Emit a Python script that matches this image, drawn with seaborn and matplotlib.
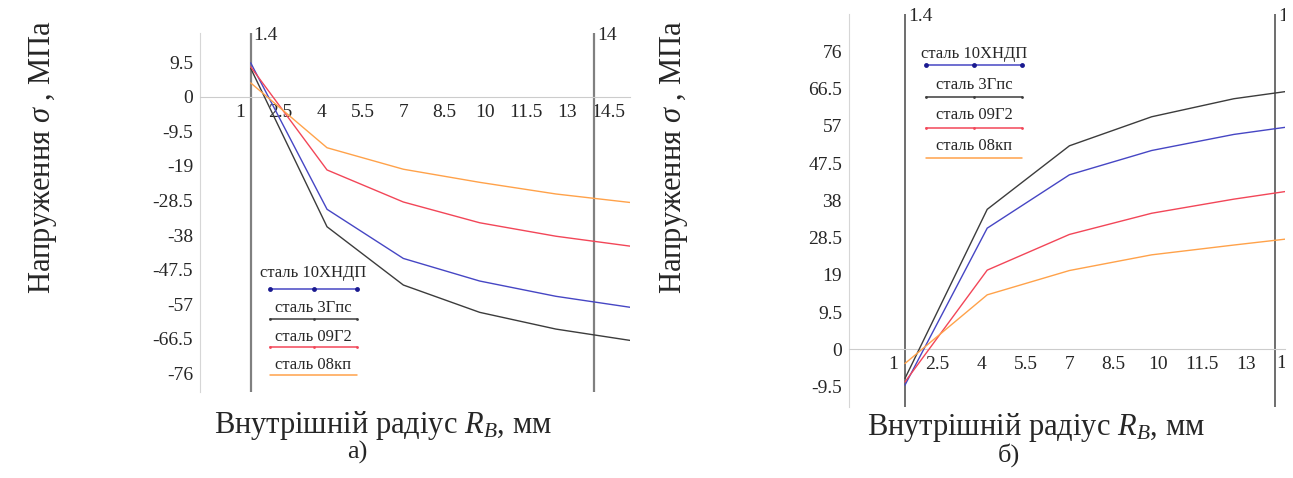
import numpy as np
import pandas as pd
import matplotlib
matplotlib.use("Agg")
import matplotlib.pyplot as plt
import seaborn as sns
from matplotlib.ticker import FuncFormatter
from matplotlib.transforms import Bbox, TransformedBbox

# radius points, mm (last point lies past the right edge of both panels)
R = [1.4, 4.2, 7.0, 9.8, 12.6, 15.4]
STEELS = ["сталь 10ХНДП", "сталь 3Гпс", "сталь 09Г2", "сталь 08кп"]
COLORS = ["#4646c4", "#3c3c3c", "#f24658", "#ffa24a"]

# panel a) stresses, MPa
a_10hndp = [9.3, -30.9, -44.4, -50.6, -54.8, -57.9]
a_3gps = [7.8, -35.7, -51.7, -59.2, -63.8, -67.0]
a_09g2 = [8.2, -20.1, -28.9, -34.6, -38.3, -41.1]
a_08kp = [3.8, -14.0, -19.9, -23.5, -26.7, -29.1]

# panel b) stresses, MPa
b_10hndp = [-9.1, 30.9, 44.5, 50.7, 54.8, 57.7]
b_3gps = [-7.4, 35.7, 51.9, 59.3, 63.9, 66.8]
b_09g2 = [-8.3, 20.2, 29.3, 34.7, 38.3, 41.4]
b_08kp = [-3.6, 13.9, 20.1, 24.1, 26.6, 29.0]

XTICKS = [1, 2.5, 4, 5.5, 7, 8.5, 10, 11.5, 13, 14.5]
YTICKS_A = [9.5, 0, -9.5, -19, -28.5, -38, -47.5, -57, -66.5, -76]
YTICKS_B = [-9.5, 0, 9.5, 19, 28.5, 38, 47.5, 57, 66.5, 76]
VLINES = [1.4, 14]


def long_form(series):
    rows = []
    for name, vals in zip(STEELS, series):
        for r, v in zip(R, vals):
            rows.append({"R": r, "sigma": v, "steel": name})
    return pd.DataFrame(rows)


def clip_right(ax, artist):
    # cut at the right edge of the axes only, leave room above the top
    artist.set_clip_box(TransformedBbox(Bbox([[-0.2, -0.2], [1.0, 1.2]]), ax.transAxes))
    artist.set_clip_on(True)


def style_panel(ax, xlim, ylim, xticks, yticks, vcolor, vwidth):
    ax.set_xlim(*xlim)
    ax.set_ylim(*ylim)
    ax.spines["top"].set_visible(False)
    ax.spines["right"].set_visible(False)
    ax.spines["bottom"].set_position(("data", 0))
    ax.spines["bottom"].set_color("#cccccc")
    ax.spines["left"].set_color("#d6d6d6")
    ax.set_xticks(xticks)
    ax.set_yticks(yticks)
    fmt = FuncFormatter(lambda v, p: f"{v:g}")
    ax.xaxis.set_major_formatter(fmt)
    ax.yaxis.set_major_formatter(fmt)
    ax.tick_params(length=3, width=0.8, color="#bbbbbb", pad=2, labelsize=14)
    ax.set_xlabel("")
    ax.set_ylabel("")
    for x in VLINES:
        ax.axvline(x, color=vcolor, lw=vwidth, zorder=1)
        t = ax.annotate(f"{x:g}", (x, 1.0), xycoords=ax.get_xaxis_transform(),
                        xytext=(2, -2), textcoords="offset points",
                        ha="left", va="center", fontsize=14, annotation_clip=False)
        clip_right(ax, t)


def draw_key(ax, x0, x1, ys_text, ys_line):
    xm = (x0 + x1) / 2
    sizes = [3.5, 2, 2, 0]
    for name, color, yt, yl, ms in zip(STEELS, COLORS, ys_text, ys_line, sizes):
        ax.text(xm, yt, name, transform=ax.transAxes, ha="center", va="center", fontsize=12)
        ax.plot([x0, xm, x1], [yl] * 3, transform=ax.transAxes, color=color, lw=1.1,
                marker="o", ms=ms, mfc=color if ms < 3 else "#1a1a90", mec="none")


sns.set_style("white")
plt.rcParams["font.family"] = ["Liberation Serif", "DejaVu Serif"]
plt.rcParams["mathtext.fontset"] = "custom"
plt.rcParams["mathtext.rm"] = "Liberation Serif"
plt.rcParams["mathtext.it"] = "Liberation Serif:italic"
plt.rcParams["axes.unicode_minus"] = False

fig = plt.figure(figsize=(12.93, 4.78), dpi=100)
ax_a = fig.add_axes([0.1547, 0.1805, 0.3326, 0.7504])
ax_b = fig.add_axes([0.6566, 0.1485, 0.3372, 0.8222])
palette = dict(zip(STEELS, COLORS))

df_a = long_form([a_10hndp, a_3gps, a_09g2, a_08kp])
sns.lineplot(data=df_a, x="R", y="sigma", hue="steel", palette=palette,
             legend=False, lw=1.0, ax=ax_a, zorder=3)
style_panel(ax_a, (-0.46, 15.32), (-81.0, 17.5), XTICKS, YTICKS_A, "#808080", 1.6)
draw_key(ax_a, 0.163, 0.365, [0.331, 0.233, 0.152, 0.074], [0.285, 0.202, 0.125, 0.046])

df_b = long_form([b_10hndp, b_3gps, b_09g2, b_08kp])
sns.lineplot(data=df_b, x="R", y="sigma", hue="steel", palette=palette,
             legend=False, lw=1.0, ax=ax_b, zorder=3)
style_panel(ax_b, (-0.507, 14.34), (-14.7, 85.5), XTICKS[:-1], YTICKS_B, "#555555", 1.2)
draw_key(ax_b, 0.177, 0.397, [0.899, 0.820, 0.742, 0.663], [0.871, 0.790, 0.711, 0.633])
# the 14.5 tick of panel b sits past the edge and is cut by it
t = ax_b.annotate(f"{XTICKS[-1]:g}", (XTICKS[-1], 0), xycoords="data", xytext=(-10, -4),
                  textcoords="offset points", ha="left", va="top", fontsize=14,
                  annotation_clip=False)
clip_right(ax_b, t)

ylab = r"Напруження $\sigma$ , МПа"
xlab = r"Внутрішній радіус $R_B$, мм"
fig.text(0.033, 0.672, ylab, rotation=90, ha="center", va="center", fontsize=22)
fig.text(0.521, 0.672, ylab, rotation=90, ha="center", va="center", fontsize=22)
fig.text(0.296, 0.094, xlab, ha="center", va="baseline", fontsize=22)
fig.text(0.801, 0.090, xlab, ha="center", va="baseline", fontsize=22)
fig.text(0.276, 0.041, "а)", ha="center", va="baseline", fontsize=19)
fig.text(0.780, 0.035, "б)", ha="center", va="baseline", fontsize=19)

fig.savefig("out.png", dpi=100)
